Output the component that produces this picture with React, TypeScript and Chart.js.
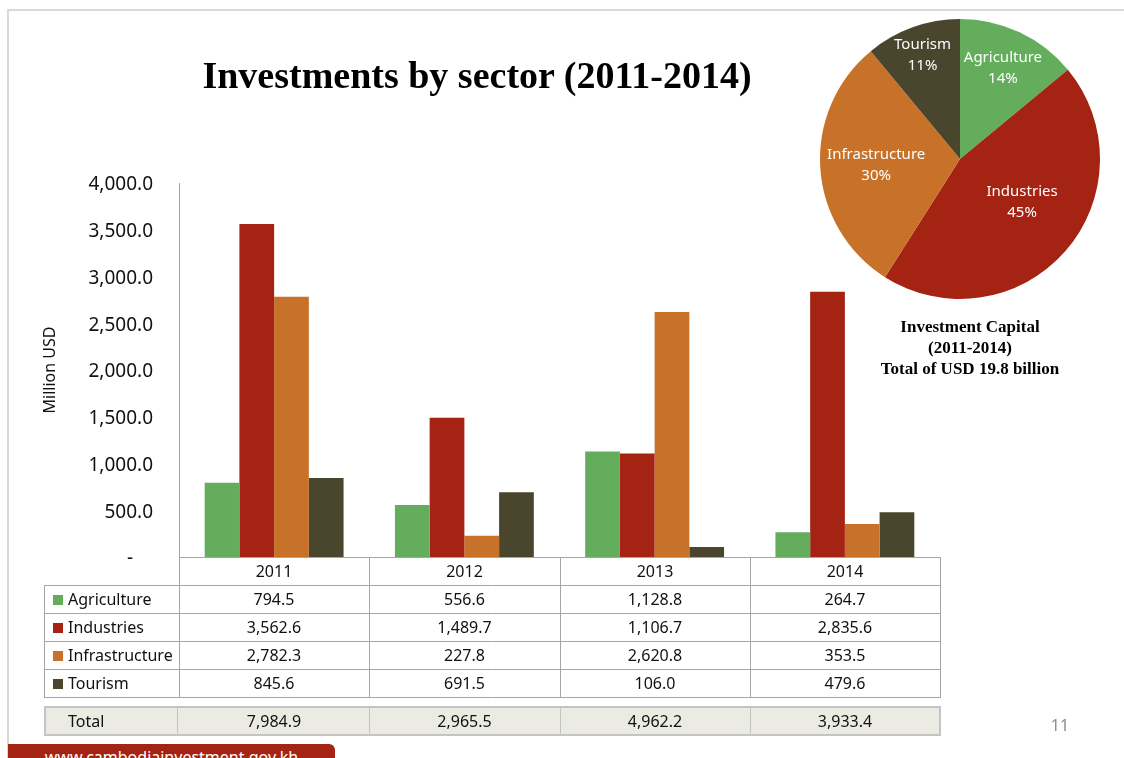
import React, { useEffect, useRef } from "react";
import { Chart, registerables } from "chart.js";

Chart.register(...registerables);

const years = ["2011", "2012", "2013", "2014"];
const sectors = ["Agriculture", "Industries", "Infrastructure", "Tourism"];
const agriculture = [794.5, 556.6, 1128.8, 264.7];
const industries = [3562.6, 1489.7, 1106.7, 2835.6];
const infrastructure = [2782.3, 227.8, 2620.8, 353.5];
const tourism = [845.6, 691.5, 106.0, 479.6];
const totals = [7984.9, 2965.5, 4962.2, 3933.4];
const sharePercent = [14, 45, 30, 11];
const sectorColors = ["#63AD5C", "#A52313", "#C87229", "#49462D"];

const series = [agriculture, industries, infrastructure, tourism];

const SANS = "'Noto Sans', 'DejaVu Sans', sans-serif";
const SERIF = "'Liberation Serif', 'Times New Roman', serif";

const fmt = (v: number) =>
  v.toLocaleString("en-US", { minimumFractionDigits: 1, maximumFractionDigits: 1 });

const tablePlugin = {
  id: "dataTable",
  afterDraw(chart: any) {
    const ctx = chart.ctx as CanvasRenderingContext2D;
    const xs = chart.scales.x;
    const area = chart.chartArea;
    const base = Math.round(area.bottom);
    const rowH = 28;
    const tableLeft = 44;
    const right = Math.round(area.right);
    const colW = area.width / years.length;
    const edges = years.map((_, i) => Math.round(xs.getPixelForValue(i) - colW / 2));
    edges.push(right);
    const line = (x1: number, y1: number, x2: number, y2: number) => {
      ctx.beginPath();
      ctx.moveTo(x1, y1);
      ctx.lineTo(x2, y2);
      ctx.stroke();
    };
    ctx.save();
    ctx.lineWidth = 1;
    ctx.strokeStyle = "#A6A6A6";
    line(Math.round(area.left), base + 0.5, right + 1, base + 0.5);
    for (let k = 1; k <= 5; k++) {
      const y = base + k * rowH + 0.5;
      line(tableLeft, y, right + 1, y);
    }
    edges.forEach((x) => line(x + 0.5, base, x + 0.5, base + 5 * rowH + 1));
    line(tableLeft + 0.5, base + rowH, tableLeft + 0.5, base + 5 * rowH + 1);

    ctx.font = `16px ${SANS}`;
    ctx.fillStyle = "#111111";
    ctx.textBaseline = "middle";
    ctx.textAlign = "center";
    years.forEach((yr, i) => {
      ctx.fillText(yr, (edges[i] + edges[i + 1]) / 2, base + rowH / 2 + 1);
    });
    sectors.forEach((name, r) => {
      const cy = base + (r + 1) * rowH + rowH / 2 + 1;
      ctx.fillStyle = sectorColors[r];
      ctx.fillRect(tableLeft + 9, Math.round(cy - 5), 10, 10);
      ctx.fillStyle = "#111111";
      ctx.textAlign = "left";
      ctx.fillText(name, tableLeft + 24, cy);
      ctx.textAlign = "center";
      series[r].forEach((v, i) => {
        ctx.fillText(fmt(v), (edges[i] + edges[i + 1]) / 2, cy);
      });
    });

    // Total row
    const ty = base + 5 * rowH + 10;
    ctx.fillStyle = "#ECEBE3";
    ctx.fillRect(tableLeft, ty, right - tableLeft, rowH);
    ctx.strokeStyle = "#C4C4C4";
    ctx.lineWidth = 2;
    ctx.strokeRect(tableLeft + 1, ty, right - tableLeft - 1, rowH);
    ctx.lineWidth = 1;
    edges.forEach((x, i) => {
      if (i > 0 && i < edges.length - 1) line(x + 0.5, ty, x + 0.5, ty + rowH);
    });
    line(edges[0] - 1.5, ty, edges[0] - 1.5, ty + rowH);
    ctx.fillStyle = "#111111";
    ctx.textAlign = "left";
    ctx.fillText("Total", tableLeft + 24, ty + rowH / 2 + 1);
    ctx.textAlign = "center";
    totals.forEach((v, i) => {
      ctx.fillText(fmt(v), (edges[i] + edges[i + 1]) / 2, ty + rowH / 2 + 1);
    });
    ctx.restore();
  },
};

const pieLabelPlugin = {
  id: "pieLabels",
  afterDatasetsDraw(chart: any, _args: any, opts: any) {
    const ctx = chart.ctx as CanvasRenderingContext2D;
    const meta = chart.getDatasetMeta(0);
    const fracs: number[] = opts.radiusFractions || [];
    const shifts: number[] = opts.angleShiftsDeg || [];
    ctx.save();
    ctx.fillStyle = "#FFFFFF";
    ctx.font = `15px ${SANS}`;
    ctx.textAlign = "center";
    ctx.textBaseline = "middle";
    meta.data.forEach((arc: any, i: number) => {
      const p = arc.getProps(["startAngle", "endAngle", "outerRadius", "x", "y"], true);
      const mid = (p.startAngle + p.endAngle) / 2 + ((shifts[i] ?? 0) * Math.PI) / 180;
      const r = p.outerRadius * (fracs[i] ?? 0.65);
      const x = p.x + Math.cos(mid) * r;
      const y = p.y + Math.sin(mid) * r;
      ctx.fillText(sectors[i], x, y - 10);
      ctx.fillText(`${sharePercent[i]}%`, x, y + 11);
    });
    ctx.restore();
  },
};

export default function App() {
  const barRef = useRef<HTMLCanvasElement | null>(null);
  const pieRef = useRef<HTMLCanvasElement | null>(null);

  useEffect(() => {
    const bar = new Chart(barRef.current!, {
      type: "bar",
      data: {
        labels: years,
        datasets: sectors.map((name, i) => ({
          label: name,
          data: series[i],
          backgroundColor: sectorColors[i],
          borderWidth: 0,
          categoryPercentage: 0.73,
          barPercentage: 1,
        })),
      },
      options: {
        responsive: false,
        animation: false,
        layout: { padding: { left: 40, top: 183, right: 184, bottom: 201 } },
        plugins: { legend: { display: false }, tooltip: { enabled: false } },
        scales: {
          x: { display: false },
          y: {
            min: 0,
            max: 4000,
            ticks: {
              stepSize: 500,
              padding: 26,
              labelOffset: 2,
              color: "#111111",
              font: { family: SANS, size: 19 },
              callback: (v: any) => (Number(v) === 0 ? "-    " : fmt(Number(v))),
            },
            grid: { display: false, drawTicks: false },
            border: { display: true, color: "#A6A6A6", width: 1 },
            title: {
              display: true,
              text: "Million USD",
              color: "#111111",
              font: { family: SANS, size: 16 },
              padding: { top: 1, bottom: 0 },
            },
            afterFit: (s: any) => {
              s.width = 139;
            },
          },
        },
      },
      plugins: [tablePlugin],
    } as any);

    const pie = new Chart(pieRef.current!, {
      type: "pie",
      data: {
        labels: sectors,
        datasets: [
          {
            data: sharePercent,
            backgroundColor: sectorColors,
            borderWidth: 0,
          },
        ],
      },
      options: {
        responsive: false,
        animation: false,
        layout: { padding: 10 },
        plugins: {
          legend: { display: false },
          tooltip: { enabled: false },
          pieLabels: {
            radiusFractions: [0.72, 0.54, 0.6, 0.79],
            angleShiftsDeg: [0, -6.6, 0, 0],
          },
        },
      },
      plugins: [pieLabelPlugin],
    } as any);

    return () => {
      bar.destroy();
      pie.destroy();
    };
  }, []);

  return (
    <div
      style={{
        position: "fixed",
        left: 0,
        top: 0,
        width: 1124,
        height: 758,
        background: "#FFFFFF",
        overflow: "hidden",
      }}
    >
      <div
        style={{
          position: "absolute",
          left: 7,
          top: 9,
          right: 0,
          bottom: 0,
          borderTop: "2px solid #D9D9D9",
          borderLeft: "2px solid #D9D9D9",
        }}
      />
      <canvas
        ref={barRef}
        width={1124}
        height={758}
        style={{ position: "absolute", left: 0, top: 0, width: 1124, height: 758 }}
      />
      <canvas
        ref={pieRef}
        width={300}
        height={300}
        style={{ position: "absolute", left: 810, top: 9, width: 300, height: 300 }}
      />
      <div
        style={{
          position: "absolute",
          left: 0,
          width: 954,
          top: 50,
          textAlign: "center",
          fontFamily: SERIF,
          fontWeight: "bold",
          fontSize: 38,
          lineHeight: "50px",
          color: "#000000",
        }}
      >
        Investments by sector (2011-2014)
      </div>
      <div
        style={{
          position: "absolute",
          left: 870,
          width: 200,
          top: 316,
          textAlign: "center",
          fontFamily: SERIF,
          fontWeight: "bold",
          fontSize: 17,
          lineHeight: "21px",
          color: "#000000",
        }}
      >
        Investment Capital
        <br />
        (2011-2014)
        <br />
        Total of USD 19.8 billion
      </div>
      <div
        style={{
          position: "absolute",
          left: 1030,
          width: 60,
          top: 714,
          textAlign: "center",
          fontFamily: SANS,
          fontSize: 16,
          lineHeight: "22px",
          color: "#8C8C8C",
        }}
      >
        11
      </div>
      <div
        style={{
          position: "absolute",
          left: 8,
          top: 744,
          width: 327,
          height: 30,
          background: "#A52313",
          borderTopRightRadius: 6,
          color: "#FFFFFF",
          fontFamily: SANS,
          fontSize: 16,
          lineHeight: "26px",
          textAlign: "center",
        }}
      >
        www.cambodiainvestment.gov.kh
      </div>
    </div>
  );
}
